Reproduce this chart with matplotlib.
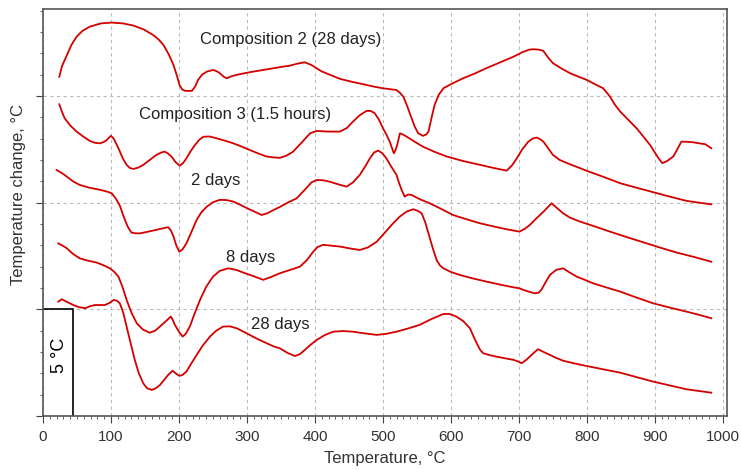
import matplotlib
matplotlib.use("Agg")
import matplotlib.pyplot as plt
from matplotlib.ticker import MultipleLocator, NullFormatter

plt.rcParams["font.family"] = ["Liberation Sans", "DejaVu Sans"]

# DTA curves, temperature (°C) vs. temperature change (°C, shifted per curve)
comp2_t = [24, 28, 35, 42, 49.5, 58, 69, 85, 101, 118, 133, 148, 162, 170, 177,
           185, 192, 197, 201, 205, 209, 219, 224, 228, 234, 241, 250, 255, 260,
           266, 270, 277, 285, 297, 309, 324, 339, 350, 363, 375, 385, 395, 410,
           437, 455, 471, 485, 500, 510, 520, 525, 530, 536, 542, 547, 552, 559,
           564, 567, 571, 576, 582, 589, 600, 618, 635, 652, 672, 692, 705, 715,
           721, 730, 736, 743, 750, 762, 775, 788, 800, 812, 824, 834, 841, 849,
           861, 873, 883, 893, 905, 911, 918, 927, 933, 939, 947, 956, 965, 974,
           983]
comp2_dt = [15.9, 16.4, 16.9, 17.4, 17.78, 18.05, 18.25, 18.4, 18.44, 18.4, 18.3,
            18.12, 17.86, 17.65, 17.4, 16.95, 16.45, 15.95, 15.5, 15.3, 15.24,
            15.24, 15.45, 15.75, 16.0, 16.14, 16.22, 16.17, 16.07, 15.9, 15.83,
            15.92, 15.99, 16.07, 16.14, 16.22, 16.3, 16.36, 16.42, 16.52, 16.58,
            16.45, 16.15, 15.8, 15.66, 15.55, 15.45, 15.36, 15.32, 15.28, 15.15,
            14.97, 14.5, 13.97, 13.55, 13.25, 13.13, 13.2, 13.33, 13.9, 14.58,
            15.05, 15.36, 15.55, 15.83, 16.05, 16.3, 16.57, 16.84, 17.05, 17.17,
            17.19, 17.17, 17.11, 16.8, 16.54, 16.3, 16.07, 15.9, 15.75, 15.55,
            15.36, 14.97, 14.6, 14.27, 13.88, 13.49, 13.1, 12.7, 12.1, 11.85,
            11.95, 12.16, 12.5, 12.86, 12.85, 12.83, 12.78, 12.74, 12.55]

comp3_t = [24, 28, 32, 40, 49.5, 60, 69, 77, 84, 90, 94, 98, 100, 104, 111, 117,
           123, 128, 133, 140, 147.5, 157, 167, 174, 179, 184, 189, 195, 201,
           206, 211, 217, 223.5, 230, 236, 245, 255, 268, 280, 292, 304, 317,
           329, 339, 348.5, 358, 368, 380, 393, 402.5, 420, 437, 447, 456, 466,
           476, 482, 488, 494, 500, 505, 510, 514, 516, 519, 521, 525, 529, 535,
           547, 559, 576, 594, 618, 643, 662, 682, 690, 697, 705, 714, 720, 726,
           731, 736, 743, 750, 760, 775, 800, 825, 849, 873, 897.5, 922, 947,
           965, 983]
comp3_dt = [14.61, 14.25, 13.95, 13.62, 13.33, 13.08, 12.89, 12.8, 12.78, 12.85,
            12.94, 13.08, 13.13, 13.0, 12.55, 12.1, 11.77, 11.62, 11.58, 11.64,
            11.77, 12.0, 12.24, 12.35, 12.39, 12.3, 12.16, 11.9, 11.73, 11.85,
            12.08, 12.4, 12.7, 12.95, 13.09, 13.1, 13.02, 12.9, 12.78, 12.63,
            12.47, 12.3, 12.16, 12.12, 12.1, 12.2, 12.39, 12.8, 13.25, 13.36,
            13.33, 13.33, 13.5, 13.8, 14.1, 14.3, 14.3, 14.19, 13.9, 13.49, 13.2,
            12.86, 12.5, 12.31, 12.5, 12.7, 13.25, 13.2, 13.09, 12.85, 12.62,
            12.38, 12.16, 11.95, 11.77, 11.63, 11.5, 11.75, 12.08, 12.5, 12.86,
            13.0, 13.05, 12.98, 12.86, 12.55, 12.24, 12.0, 11.8, 11.49, 11.2,
            10.91, 10.7, 10.49, 10.28, 10.08, 10.0, 9.92]

d2_t = [20, 28, 35, 44, 54, 68, 84, 94, 101, 107, 113, 117, 120.6, 125, 130, 136,
        143, 162, 184, 188, 192, 196, 200.5, 205, 211, 218, 226, 233, 241, 250,
        260, 270, 280, 290, 300, 311, 321.6, 330, 339, 348.5, 360, 373, 385, 395,
        402.5, 412, 422, 435, 446.6, 456, 466, 474, 481, 487, 493, 499, 505, 512,
        520, 524, 527.5, 532, 537, 542, 555, 569, 586, 603, 623, 643, 662, 682,
        701, 709, 716, 726, 737, 748, 756, 765, 775, 790, 812, 834, 861, 888, 910,
        932, 958, 983]
d2_dt = [11.53, 11.38, 11.22, 11.0, 10.83, 10.7, 10.6, 10.52, 10.44, 10.2, 9.86,
         9.5, 9.19, 8.85, 8.6, 8.56, 8.56, 8.69, 8.85, 8.7, 8.41, 8.0, 7.7, 7.8,
         8.09, 8.6, 9.19, 9.55, 9.81, 10.02, 10.13, 10.12, 10.05, 9.9, 9.74,
         9.58, 9.42, 9.5, 9.65, 9.8, 10.0, 10.2, 10.6, 10.95, 11.06, 11.05,
         10.98, 10.85, 10.75, 10.95, 11.3, 11.7, 12.08, 12.35, 12.44, 12.32,
         12.08, 11.7, 11.3, 10.9, 10.6, 10.28, 10.38, 10.36, 10.15, 9.97, 9.7,
         9.42, 9.22, 9.03, 8.89, 8.75, 8.64, 8.78, 8.95, 9.27, 9.6, 9.97, 9.75,
         9.5, 9.3, 9.11, 8.88, 8.64, 8.36, 8.09, 7.87, 7.66, 7.45, 7.23]

d8_t = [22.5, 28, 35, 44, 54, 66, 79, 90, 98.5, 105, 111, 117, 123, 130, 138,
        147, 157, 165, 172, 180, 188, 191, 194, 200, 205.4, 210, 216, 223, 231,
        240, 250, 260, 272.5, 284, 294.6, 310, 324, 336, 348.5, 363, 378, 388,
        397.5, 404, 412, 425, 437, 452, 466, 478, 491, 503, 515, 525, 535, 544.6,
        551, 557, 562, 567, 573, 579, 584, 589, 600, 613, 632, 652, 672, 692,
        701, 712, 723.5, 729, 733, 739, 745.6, 755, 765, 775, 785, 797, 809, 829,
        849, 873, 897.5, 922, 946.6, 965, 983]
d8_dt = [8.09, 8.0, 7.86, 7.6, 7.39, 7.28, 7.19, 7.05, 6.92, 6.75, 6.53, 6.05,
         5.44, 4.85, 4.34, 4.05, 3.9, 4.0, 4.19, 4.42, 4.66, 4.5, 4.27, 3.95,
         3.72, 3.85, 4.19, 4.8, 5.44, 6.05, 6.53, 6.8, 6.92, 6.85, 6.72, 6.55,
         6.38, 6.52, 6.69, 6.84, 7.0, 7.3, 7.7, 7.92, 8.02, 7.98, 7.94, 7.85,
         7.78, 7.9, 8.17, 8.6, 9.03, 9.35, 9.58, 9.69, 9.62, 9.5, 9.1, 8.56, 7.9,
         7.31, 7.05, 6.92, 6.75, 6.61, 6.45, 6.3, 6.16, 6.03, 5.98, 5.85, 5.75,
         5.78, 5.91, 6.25, 6.61, 6.85, 6.92, 6.72, 6.53, 6.38, 6.22, 6.02, 5.83,
         5.55, 5.28, 5.08, 4.89, 4.74, 4.58]

d28_t = [22.5, 27.5, 35, 44.6, 53, 62, 70, 76.5, 91, 98, 104, 109, 113, 118, 123,
         129, 135, 141, 147.5, 153, 160, 166, 172, 178, 184, 190.7, 195, 200.5,
         205, 211, 218, 226, 235, 245.6, 255, 265, 275, 285, 295, 304, 316, 329,
         340, 348.5, 360, 370.6, 378, 385, 393, 402.5, 415, 427, 441, 456, 473,
         491, 505, 520, 537, 554, 572, 589, 598, 608, 618, 628, 633, 638, 643,
         647.5, 657, 667, 680, 692, 699, 704, 711, 720, 728, 735, 743, 755, 765,
         782, 800, 825, 849, 873, 897.5, 922, 946.6, 965, 983]
d28_dt = [5.36, 5.47, 5.35, 5.2, 5.1, 5.05, 5.15, 5.2, 5.2, 5.3, 5.44, 5.4, 5.28,
          4.85, 4.19, 3.4, 2.63, 2.0, 1.53, 1.3, 1.22, 1.3, 1.45, 1.68, 1.92,
          2.12, 2.0, 1.88, 1.92, 2.08, 2.45, 2.86, 3.3, 3.72, 4.0, 4.19, 4.2,
          4.11, 3.95, 3.8, 3.6, 3.41, 3.25, 3.17, 2.95, 2.81, 2.9, 3.09, 3.32,
          3.56, 3.8, 3.95, 3.98, 3.95, 3.87, 3.8, 3.85, 3.95, 4.1, 4.27, 4.55,
          4.78, 4.78, 4.66, 4.45, 4.11, 3.75, 3.41, 3.1, 2.94, 2.85, 2.78, 2.7,
          2.63, 2.55, 2.47, 2.63, 2.9, 3.13, 3.02, 2.9, 2.72, 2.59, 2.46, 2.34,
          2.18, 2.03, 1.82, 1.61, 1.43, 1.25, 1.17, 1.09]

curves = [(comp2_t, comp2_dt), (comp3_t, comp3_dt), (d2_t, d2_dt),
          (d8_t, d8_dt), (d28_t, d28_dt)]

# curve labels and where they sit (data coords)
labels = ["Composition 2 (28 days)", "Composition 3 (1.5 hours)", "2 days",
          "8 days", "28 days"]
label_pos = [(364, 17.63), (283, 14.15), (254, 11.02), (305.5, 7.44), (349, 4.27)]

scale_x = 44       # x of the vertical 5 °C bar
scale_span = 5.0   # °C

fig = plt.figure(figsize=(7.41, 4.70), dpi=100)
ax = fig.add_axes([0.058, 0.115, 0.923, 0.866])

line_col = "#d40000"
for t, dt in curves:
    ax.plot(t, dt, color=line_col, lw=1.3)

for txt, (x, y) in zip(labels, label_pos):
    ax.text(x, y, txt, fontsize=12, color="#222222", ha="center", va="center")

# 5 °C scale bar
ax.plot([0, scale_x, scale_x], [scale_span, scale_span, 0], color="black", lw=1.2)
ax.text(scale_x / 2 + 2, scale_span * 0.57, "5 °C", rotation=90, fontsize=13,
        ha="center", va="center", color="black")

ax.set_xlim(0, 1006)
ax.set_ylim(0, 19.08)

ax.xaxis.set_major_locator(MultipleLocator(100))
ax.xaxis.set_minor_locator(MultipleLocator(10))
ax.yaxis.set_major_locator(MultipleLocator(5))
ax.yaxis.set_minor_locator(MultipleLocator(1))
ax.yaxis.set_major_formatter(NullFormatter())

ax.grid(True, which="major", ls=(0, (3, 3)), color="#bbbbbb", lw=0.8)
ax.tick_params(which="major", direction="out", length=5, color="#444444",
               labelsize=11, labelcolor="#333333", pad=5)
ax.tick_params(which="minor", direction="out", length=2.5, color="#444444")
for s in ax.spines.values():
    s.set_color("#555555")
    s.set_linewidth(1.2)

ax.set_xlabel("Temperature, °C", fontsize=12, color="#333333", labelpad=5)
ax.set_ylabel("Temperature change, °C", fontsize=12, color="#333333")
ax.yaxis.set_label_coords(-0.025, 0.543)

fig.savefig("out.png", dpi=100)
